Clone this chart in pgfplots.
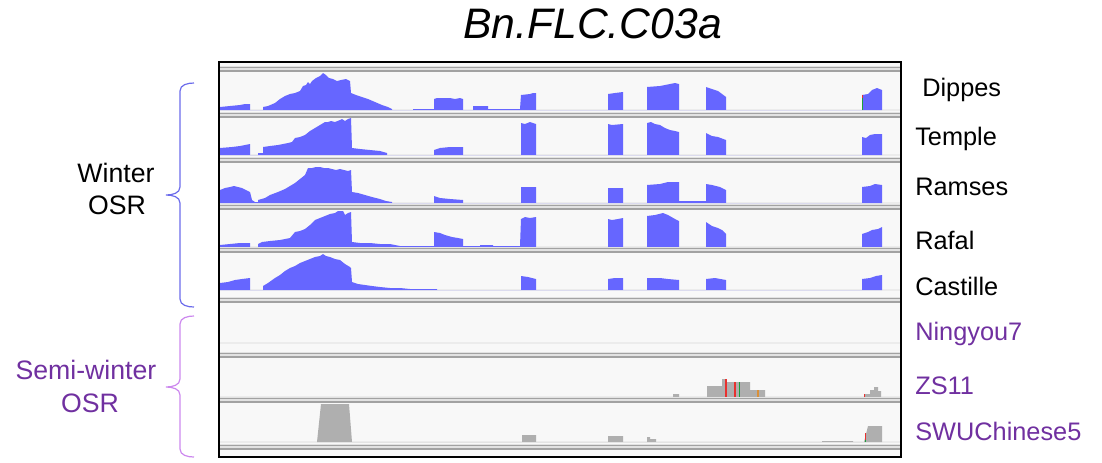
\documentclass[border=0pt]{standalone}
\usepackage{pgfplots}
\pgfplotsset{compat=1.18}
\usepackage{fontspec}
\setmainfont{Liberation Sans}

\definecolor{covblue}{HTML}{6666FF}
\definecolor{covgray}{HTML}{AFAFAF}
\definecolor{trackbg}{HTML}{F8F8F8}
\definecolor{baseln}{HTML}{ECECEC}
\definecolor{sepgray}{HTML}{A2A2A2}
\definecolor{sepfill}{HTML}{E2E2E2}
\definecolor{semipurple}{HTML}{7030A0}
\definecolor{bracewin}{HTML}{6B6BEB}
\definecolor{bracesemi}{HTML}{CC88EE}
\definecolor{mmred}{HTML}{E8312F}
\definecolor{mmgreen}{HTML}{1E9E3A}
\definecolor{mmorange}{HTML}{D9903A}

% one coverage track: x = position along the locus, y = read depth
\pgfplotsset{
  track/.style={
    anchor=north west, x=0.75pt, y=0.75pt,
    xmin=219, xmax=901, hide axis, clip=false,
  },
  cov/.style={fill=covblue, draw=none},
  covg/.style={fill=covgray, draw=none},
  mm/.style={draw=#1, line width=0.9pt},
}

\begin{document}
\begin{tikzpicture}
\begin{scope}[x=0.75pt,y=-0.75pt]
  \useasboundingbox (0,0) rectangle (1102,462);
  \fill[trackbg] (219,62) rectangle (901,457);
  \foreach \b in {110,155,203,247,290,343,397,442}
    \draw[baseln, line width=0.8pt] (219,\b) -- (901,\b);
\end{scope}

% Dippes
\begin{axis}[track, at={(164.25pt,-51.75pt)}, ymin=-5, ymax=41]
\addplot[cov] coordinates {
(220,0)(220,3)(230,4)(240,5)(245,6)(250,6)(250,0)
(263,0)(263,3)(268,4)(275,7)(280,11)(285,14)(290,16)(295,17)(300,19)(303,24)(306,25)(308,28)(310,26)(312,29)(316,32)(320,34)(323,37)(326,35)(329,32)(333,31)(337,29)(341,30)(346,31)(350,29)(351,17)(356,15)(362,13)(368,11)(375,8)(382,5)(388,3)(392,1)(392,0)
(413,0)(413,1)(434,1)(434,11)(437,12)(450,12)(455,11)(460,12)(463,11)(463,0)
(473,0)(473,4)(488,4)(488,1)(520,1)(521,15)(530,16)(533,17)(536,17)(536,0)
(608,0)(608,16)(615,17)(623,18)(623,0)
(647,0)(647,23)(660,24)(665,25)(670,26)(675,27)(679,26)(679,0)
(706,0)(706,23)(712,21)(718,19)(722,16)(726,13)(726,0)
(862,0)(862,15)(868,16)(872,20)(877,22)(882,20)(882,0)};
\addplot[mm=mmgreen] coordinates {(862.6,0)(862.6,12)};
\addplot[mm=mmred] coordinates {(862.6,12)(862.6,15)};
\end{axis}

% Temple
\begin{axis}[track, at={(164.25pt,-86.25pt)}, ymin=-5, ymax=40]
\addplot[cov] coordinates {
(220,0)(220,7)(232,8)(240,9)(245,10)(250,11)(250,0)(258,0)(258,2)(263,2)(263,8)(270,9)(278,10)(283,11)(288,12)(292,13)(295,17)(300,18)(305,20)(310,24)(315,27)(320,30)(325,33)(328,33)(331,34)(335,33)(340,35)(342,36)(345,34)(348,36)(351,37)(352,7)(360,6)(370,5)(380,4)(387,2)(387,0)
(434,0)(434,5)(440,7)(450,8)(463,8)(463,0)
(521,0)(521,32)(525,31)(530,33)(536,31)(536,0)
(608,0)(608,31)(612,30)(623,31)(623,0)
(647,0)(647,32)(651,33)(655,31)(660,30)(665,27)(670,25)(675,24)(679,23)(679,0)
(706,0)(706,22)(712,19)(718,18)(726,15)(726,0)
(862,0)(862,18)(866,17)(870,20)(875,21)(882,21)(882,0)};
\end{axis}

% Ramses
\begin{axis}[track, at={(164.25pt,-120pt)}, ymin=-4, ymax=43]
\addplot[cov] coordinates {
(220,0)(220,13)(225,15)(230,16)(234,17)(238,16)(242,15)(246,13)(250,11)(252,3)(255,1)(258,1)(258,3)(265,5)(270,8)(278,11)(285,14)(290,17)(295,20)(300,24)(305,28)(308,35)(312,35)(316,36)(320,36)(324,35)(328,35)(332,34)(336,33)(340,34)(344,33)(348,32)(351,33)(352,11)(358,10)(365,8)(372,6)(380,4)(386,2)(392,1)(392,0)
(434,0)(434,7)(440,5)(450,4)(463,3)(463,0)
(521,0)(521,16)(536,16)(536,0)
(608,0)(608,15)(623,15)(623,0)
(647,0)(647,18)(660,19)(668,21)(679,21)(679,2)(706,2)(706,19)(712,18)(720,16)(726,13)(726,0)
(862,0)(862,16)(870,17)(875,19)(882,18)(882,0)};
\end{axis}

% Rafal
\begin{axis}[track, at={(164.25pt,-155.25pt)}, ymin=-3, ymax=40]
\addplot[cov] coordinates {
(220,0)(220,2)(230,3)(240,4)(250,4)(250,0)(258,0)(258,3)(262,5)(270,6)(280,7)(290,9)(295,15)(300,16)(305,18)(310,22)(315,27)(320,29)(325,31)(330,33)(335,34)(338,36)(343,36)(345,32)(348,34)(351,35)(352,5)(360,4)(370,4)(380,3)(390,3)(395,2)(400,1)(434,1)(434,15)(440,14)(445,12)(452,10)(458,9)(463,8)(463,1)(480,1)(480,2)(493,2)(493,1)(520,1)(521,28)(525,30)(530,29)(536,30)(536,0)
(608,0)(608,28)(612,27)(618,28)(623,29)(623,0)
(647,0)(647,31)(655,32)(663,34)(668,32)(675,28)(679,26)(679,0)
(706,0)(706,25)(712,21)(718,19)(722,17)(726,13)(726,0)
(862,0)(862,13)(868,15)(872,17)(878,18)(882,20)(882,0)};
\end{axis}

% Castille
\begin{axis}[track, at={(164.25pt,-187.5pt)}, ymin=-10, ymax=40]
\addplot[cov] coordinates {
(220,0)(220,7)(228,8)(235,10)(242,11)(250,12)(250,0)
(263,0)(263,4)(268,7)(275,12)(280,15)(285,19)(290,22)(295,24)(300,27)(305,29)(310,31)(315,33)(320,34)(323,36)(326,34)(330,33)(335,31)(340,30)(345,26)(350,23)(351,22)(352,8)(358,6)(365,5)(372,4)(380,3)(390,2)(400,2)(410,1)(437,1)(437,0)
(521,0)(521,14)(528,13)(536,11)(536,0)
(608,0)(608,11)(615,12)(623,12)(623,0)
(647,0)(647,12)(660,12)(668,11)(679,10)(679,0)
(706,0)(706,11)(715,12)(726,10)(726,0)
(862,0)(862,11)(870,12)(876,14)(882,15)(882,0)};
\end{axis}

% Ningyou7: no reads mapped
\begin{axis}[track, at={(164.25pt,-225pt)}, ymin=-12, ymax=43]
\addplot[draw=none] coordinates {(219,0)(901,0)};
\end{axis}

% ZS11
\begin{axis}[track, at={(164.25pt,-266.25pt)}, ymin=-3, ymax=42]
\addplot[covg] coordinates {
(673,0)(673,3)(679,3)(679,0)
(707,0)(707,11)(722,11)(722,18)(726,18)(726,15)(750,15)(750,7)(765,7)(765,0)
(864,0)(864,3)(870,3)(870,7)(874,7)(874,10)(878,10)(878,6)(881,6)(881,0)};
\addplot[mm=mmred] coordinates {(726,0)(726,18)};
\addplot[mm=mmred] coordinates {(735,0)(735,15)};
\addplot[mm=mmgreen] coordinates {(739.5,0)(739.5,15)};
\addplot[mm=mmorange] coordinates {(758,0)(758,7)};
\addplot[mm=mmred] coordinates {(864.5,0)(864.5,3)};
\end{axis}

% SWUChinese5
\begin{axis}[track, at={(164.25pt,-300pt)}, ymin=-5, ymax=42]
\addplot[covg] coordinates {
(317,0)(321,38)(349,38)(352,0)
(522,0)(522,7)(536,7)(536,0)
(608,0)(608,6)(623,6)(623,0)
(647,0)(647,5)(650,5)(650,3)(656,3)(656,0)
(822,0)(822,1)(853,1)(853,0)
(864,0)(868,16)(882,16)(882,0)};
\addplot[mm=mmred] coordinates {(865.5,2)(865.5,9)};
\addplot[mm=mmgreen] coordinates {(865.5,0)(865.5,2)};
\end{axis}

\begin{scope}[x=0.75pt,y=-0.75pt]
  % track separators
  \foreach \s in {69,115,160,207,250,300,355,400,447} {
    \fill[sepfill] (219,\s-2.6) rectangle (901,\s+2.6);
    \draw[sepgray, line width=0.9pt] (219,\s-1.9) -- (901,\s-1.9);
    \draw[sepgray, line width=0.9pt] (219,\s+1.9) -- (901,\s+1.9);
  }
  \draw[black, line width=1.6pt] (219,62) rectangle (901,457);

  % title
  \node[anchor=base, inner sep=0pt, font=\fontsize{32}{36}\selectfont\itshape]
    at (592.5,38) {Bn.FLC.C03a};

  % sample names
  \begin{scope}[every node/.style={anchor=base west, inner sep=0pt,
      font=\fontsize{19}{22}\selectfont}]
    \node at (922,96) {Dippes};
    \node at (915,145) {Temple};
    \node at (915,195) {Ramses};
    \node at (915,249) {Rafal};
    \node at (915,295) {Castille};
    \node[text=semipurple] at (915,340) {Ningyou7};
    \node[text=semipurple] at (915,394) {ZS11};
    \node[text=semipurple] at (915,440) {SWUChinese5};
  \end{scope}

  % group labels
  \begin{scope}[every node/.style={anchor=base, inner sep=0pt,
      font=\fontsize{20}{24}\selectfont}]
    \node at (116,182) {Winter};
    \node at (117,214) {OSR};
    \node[text=semipurple] at (86,379) {Semi-winter};
    \node[text=semipurple] at (90,412) {OSR};
  \end{scope}

  % group braces
  \draw[bracewin, line width=0.9pt]
    (194,83) to[out=180,in=90] (180,91) -- (180,187)
    to[out=-90,in=0] (166,195) to[out=0,in=90] (180,203) -- (180,299)
    to[out=-90,in=180] (194,307);
  \draw[bracesemi, line width=0.9pt]
    (194,316) to[out=180,in=90] (180,324) -- (180,379)
    to[out=-90,in=0] (166,387) to[out=0,in=90] (180,395) -- (180,449)
    to[out=-90,in=180] (194,457);
\end{scope}
\end{tikzpicture}
\end{document}
